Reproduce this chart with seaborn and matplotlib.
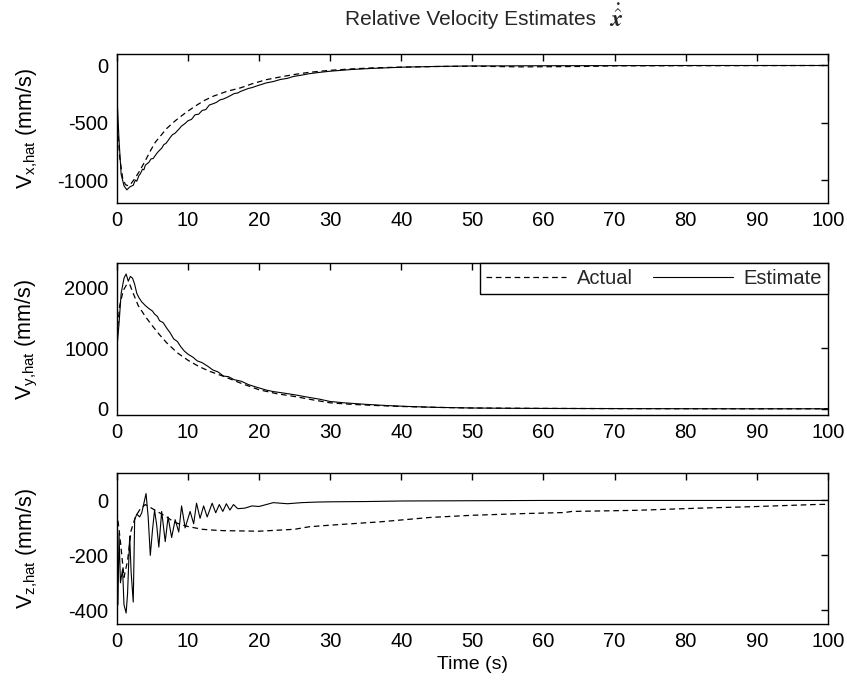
import matplotlib
matplotlib.use("Agg")
import matplotlib.pyplot as plt
import seaborn as sns

# ---- time histories (s, mm/s) ----
t_vx_act = [0, 0.4, 0.8, 1.2, 1.6, 2.0, 2.6, 3.2, 4.0, 4.8, 5.4, 6.2, 7.0, 8.2, 9.5, 11, 12.3,
            13.6, 15.5, 17.4, 19, 21, 23, 24.8, 27, 30, 33, 36, 40, 45, 50, 57, 62, 66, 70, 80, 90, 100]
vx_act = [-450, -800, -980, -1040, -1050, -1030, -980, -920, -830, -735, -670, -610, -550, -483,
          -420, -355, -305, -267, -225, -195, -160, -124, -100, -80, -60, -42, -30, -21, -14, -9,
          -6, -12, -10, -8, -3, -2, -1, 0]
t_vx_est = [0, 0.3, 0.6, 1.0, 1.4, 1.8, 2.3, 2.6, 2.8, 3.1, 3.3, 3.6, 3.8, 4.0, 4.2, 4.5, 4.8, 5.1,
            5.4, 5.7, 6.0, 6.3, 6.6, 6.9, 7.2, 7.5, 7.8, 8.2, 8.5, 8.8, 9.1, 9.4, 9.7, 10, 10.5, 11,
            11.5, 12, 12.5, 13, 13.6, 14, 14.5, 15, 15.5, 16, 16.5, 17, 17.4, 18, 18.5, 19, 19.5,
            20.2, 21, 22, 23, 24, 24.8, 26, 27, 28.5, 30, 33, 36, 40, 45, 50, 60, 70, 80, 90, 100]
vx_est = [-250, -650, -950, -1050, -1085, -1060, -1045, -1000, -1010, -960, -945, -905, -910, -870,
          -860, -845, -815, -812, -785, -760, -740, -722, -690, -680, -655, -628, -605, -590, -570,
          -550, -528, -515, -500, -482, -470, -430, -425, -392, -385, -345, -332, -322, -300, -292,
          -278, -262, -245, -240, -226, -212, -200, -193, -182, -168, -152, -140, -122, -112, -96,
          -84, -72, -60, -50, -35, -25, -15, -8, -4, -2, -1, 0, 0, 0]

t_vy_act = [0, 0.4, 0.9, 1.4, 1.8, 2.3, 3.0, 4.0, 5.0, 6.0, 7.0, 8.5, 10, 11.5, 13, 15, 17.5, 20,
            22.5, 25, 27.5, 30, 33, 36, 40, 45, 50, 60, 70, 80, 90, 100]
vy_act = [1200, 1700, 1950, 2050, 2050, 1900, 1700, 1520, 1365, 1220, 1088, 923, 800, 700, 620,
          536, 420, 315, 250, 204, 150, 100, 75, 58, 40, 25, 15, 8, 5, 3, 2, 2]
t_vy_est = [0, 0.3, 0.6, 1.0, 1.3, 1.6, 1.9, 2.2, 2.5, 2.8, 3.1, 3.5, 4.0, 4.5, 5.0, 5.3, 5.7, 6.0,
            6.5, 7.0, 7.5, 8.0, 8.5, 9.0, 9.5, 10, 10.7, 11.3, 12, 12.8, 13.5, 14.2, 15, 15.7, 16.5,
            17.5, 18.5, 19.3, 20, 21, 22, 23.5, 25, 27, 28.5, 30, 32, 35, 38, 41, 45, 50, 55, 60, 70,
            80, 90, 100]
vy_est = [1000, 1400, 1900, 2150, 2220, 2100, 2180, 2150, 2050, 1900, 1830, 1760, 1700, 1650, 1610,
          1560, 1520, 1450, 1420, 1330, 1250, 1150, 1110, 1020, 950, 900, 850, 790, 760, 700, 640,
          610, 540, 530, 480, 455, 400, 370, 345, 310, 285, 260, 232, 190, 160, 122, 100, 75, 55,
          40, 25, 15, 10, 8, 5, 3, 2, 2]

t_vz_act = [0, 0.5, 1.0, 1.5, 2.0, 2.6, 3.3, 4.0, 5.0, 6.0, 7.0, 8.0, 9.0, 10, 11, 12, 13.5, 15, 20,
            25, 27, 30, 37, 44, 50, 57, 63, 64, 73, 82, 89, 98, 100]
vz_act = [-40, -150, -280, -220, -110, -60, -30, -15, -30, -45, -60, -78, -88, -95, -100, -105,
          -108, -110, -112, -105, -96, -90, -78, -62, -54, -48, -44, -40, -36, -28, -23, -15, -14]
t_vz_est = [0, 0.15, 0.3, 0.5, 0.8, 1.0, 1.3, 1.5, 1.8, 2.0, 2.3, 2.5, 2.8, 3.2, 3.5, 4.1, 4.4, 4.7,
            5.0, 5.3, 5.6, 5.9, 6.3, 6.8, 7.2, 7.7, 8.2, 8.7, 9.1, 9.6, 10.3, 10.8, 11.2, 11.7, 12.2,
            12.7, 13.4, 13.9, 14.4, 14.9, 15.4, 15.9, 16.4, 17, 18, 19, 20, 21, 22, 24, 26, 28, 30,
            35, 40, 50, 60, 70, 80, 90, 100]
vz_est = [-30, -380, -120, -300, -250, -380, -410, -340, -130, -260, -370, -70, -50, -60, -45, 25,
          -60, -200, -110, -35, -90, -170, -40, -150, -60, -135, -70, -115, -20, -100, -40, -85,
          -10, -65, -20, -60, -10, -45, -15, -40, -12, -35, -15, -30, -28, -20, -22, -15, -8, -12,
          -8, -6, -5, -4, -2, -1, 0, 0, 0, 0, 0]

x_ticks = [0, 10, 20, 30, 40, 50, 60, 70, 80, 90, 100]
panels = [
    dict(t_act=t_vx_act, act=vx_act, t_est=t_vx_est, est=vx_est,
         ylim=(-1200, 100), yticks=[-1000, -500, 0], label=r"V$_{\mathrm{x{,}hat}}$ (mm/s)"),
    dict(t_act=t_vy_act, act=vy_act, t_est=t_vy_est, est=vy_est,
         ylim=(-100, 2400), yticks=[0, 1000, 2000], label=r"V$_{\mathrm{y{,}hat}}$ (mm/s)"),
    dict(t_act=t_vz_act, act=vz_act, t_est=t_vz_est, est=vz_est,
         ylim=(-450, 100), yticks=[-400, -200, 0], label=r"V$_{\mathrm{z{,}hat}}$ (mm/s)"),
]

sns.set_theme(style="white")
plt.rcParams.update({
    "font.family": ["Liberation Sans", "DejaVu Sans"],
    "mathtext.fontset": "custom",
    "mathtext.rm": "Liberation Sans",
    "mathtext.it": "Liberation Sans:italic",
    "mathtext.bf": "Liberation Sans:bold",
    "axes.unicode_minus": False,
    "axes.edgecolor": "black",
    "axes.linewidth": 1.0,
    "xtick.direction": "in",
    "ytick.direction": "in",
    "xtick.top": True,
    "ytick.right": True,
    "xtick.major.size": 5,
    "ytick.major.size": 5,
    "xtick.major.width": 1.0,
    "ytick.major.width": 1.0,
    "xtick.color": "black",
    "ytick.color": "black",
})

fig, axes = plt.subplots(3, 1, figsize=(8.47, 6.84), dpi=100)
positions = [
    [0.138, 0.7032, 0.8394, 0.2178],
    [0.138, 0.3933, 0.8394, 0.2222],
    [0.138, 0.0877, 0.8394, 0.2208],
]
dash = (0, (4.5, 3))
for ax, p, pos in zip(axes, panels, positions):
    ax.set_position(pos)
    sns.lineplot(x=p["t_act"], y=p["act"], ax=ax, color="black", linewidth=0.9,
                 linestyle=dash, estimator=None, sort=False, label="Actual")
    sns.lineplot(x=p["t_est"], y=p["est"], ax=ax, color="black", linewidth=0.8,
                 estimator=None, sort=False, label="Estimate")
    ax.set_xlim(0, 100)
    ax.set_ylim(*p["ylim"])
    ax.set_xticks(x_ticks)
    ax.set_yticks(p["yticks"])
    ax.tick_params(labelsize=14.5, pad=6)
    ax.set_ylabel(p["label"], fontsize=15.5, color="black")
    ax.yaxis.set_label_coords(-0.108, 0.5)
    ax.get_legend().remove()
    for s in ax.spines.values():
        s.set_visible(True)

leg = axes[1].legend(loc="upper right", ncol=2, fontsize=14.5, frameon=True, fancybox=False,
                     edgecolor="black", framealpha=1, borderaxespad=0, handlelength=4.0,
                     handletextpad=0.5, columnspacing=1.0, borderpad=0.3)
leg.get_frame().set_linewidth(1.0)

axes[2].set_xlabel("Time (s)", fontsize=14, color="black", labelpad=3)

fig.text(0.555, 0.964, "Relative Velocity Estimates", fontsize=15, ha="center", va="baseline")
fig.text(0.727, 0.960, r"$\dot{\hat{\boldsymbol{x}}}$", fontsize=17, ha="center", va="baseline",
         math_fontfamily="cm")

fig.savefig("out.png", dpi=100)
